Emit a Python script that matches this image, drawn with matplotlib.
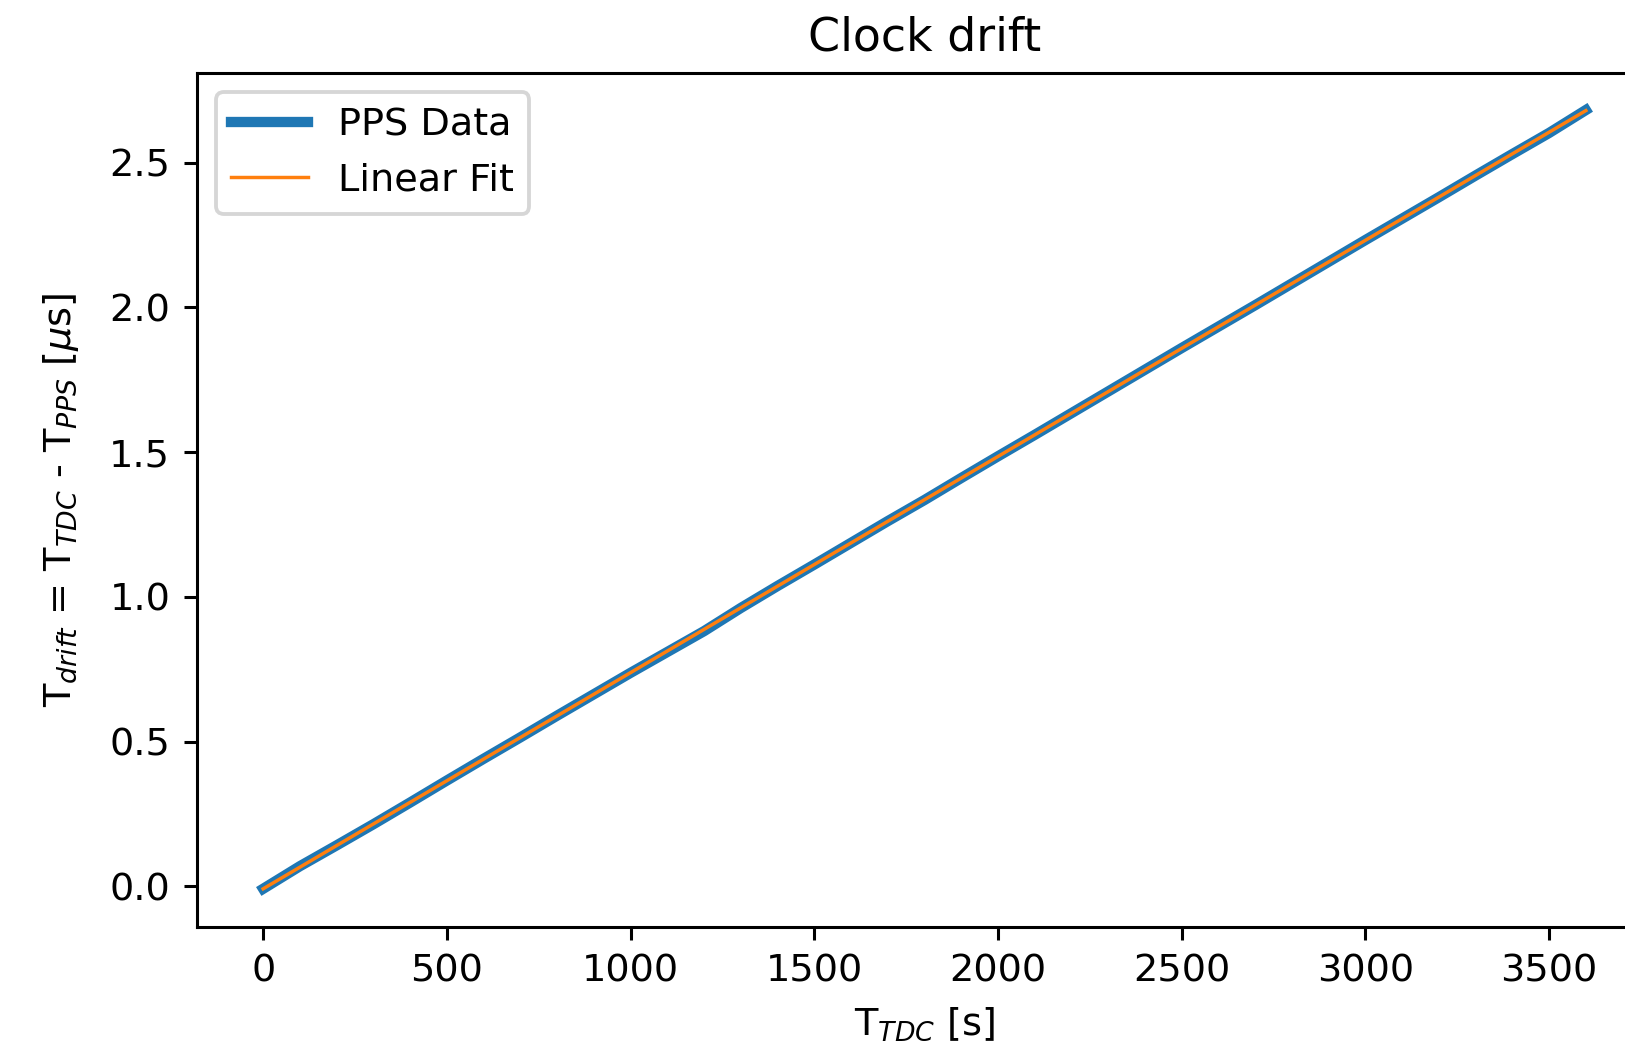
import numpy as np
import matplotlib
matplotlib.use("Agg")
import matplotlib.pyplot as plt

# PPS measurements: TDC time [s] vs drift [us]
t_tdc = [0, 100, 200, 300, 400, 500, 600, 700, 800, 900,
         1000, 1100, 1200, 1300, 1400, 1500, 1600, 1700, 1800, 1900,
         2000, 2100, 2200, 2300, 2400, 2500, 2600, 2700, 2800, 2900,
         3000, 3100, 3200, 3300, 3400, 3500, 3600]
t_drift = [-0.008, 0.070, 0.142, 0.215, 0.290, 0.366, 0.441, 0.515, 0.590, 0.664,
           0.738, 0.810, 0.882, 0.962, 1.038, 1.112, 1.187, 1.262, 1.335, 1.411,
           1.486, 1.560, 1.635, 1.710, 1.785, 1.860, 1.934, 2.008, 2.083, 2.158,
           2.233, 2.307, 2.381, 2.456, 2.530, 2.603, 2.682]

t_tdc = np.array(t_tdc)
t_drift = np.array(t_drift)
coef = np.polyfit(t_tdc, t_drift, 1)
fit = np.polyval(coef, t_tdc)

dpi = 275
fig = plt.figure(figsize=(1625 / dpi, 1056 / dpi), dpi=dpi)
# the original picture is cropped on the right, so the axes run past the edge
ax = fig.add_axes([197 / 1625, 1 - 927 / 1056, 1455 / 1625, (927 - 73) / 1056])

ax.plot(t_tdc, t_drift, color="#1f77b4", lw=2.7, label="PPS Data")
ax.plot(t_tdc, fit, color="#ff7f0e", lw=0.9, label="Linear Fit")

ax.set_xlim(-180, 3780)
ax.set_ylim(-0.14, 2.81)
ax.set_xticks([0, 500, 1000, 1500, 2000, 2500, 3000, 3500])
ax.set_yticks([0.0, 0.5, 1.0, 1.5, 2.0, 2.5])

ax.set_title("Clock drift")
ax.set_xlabel("T$_{TDC}$ [s]")
ax.set_ylabel("T$_{drift}$ = T$_{TDC}$ - T$_{PPS}$ [$\\mu$s]", labelpad=7.5)
ax.legend(loc="upper left")

fig.savefig("out.png", dpi=dpi)
